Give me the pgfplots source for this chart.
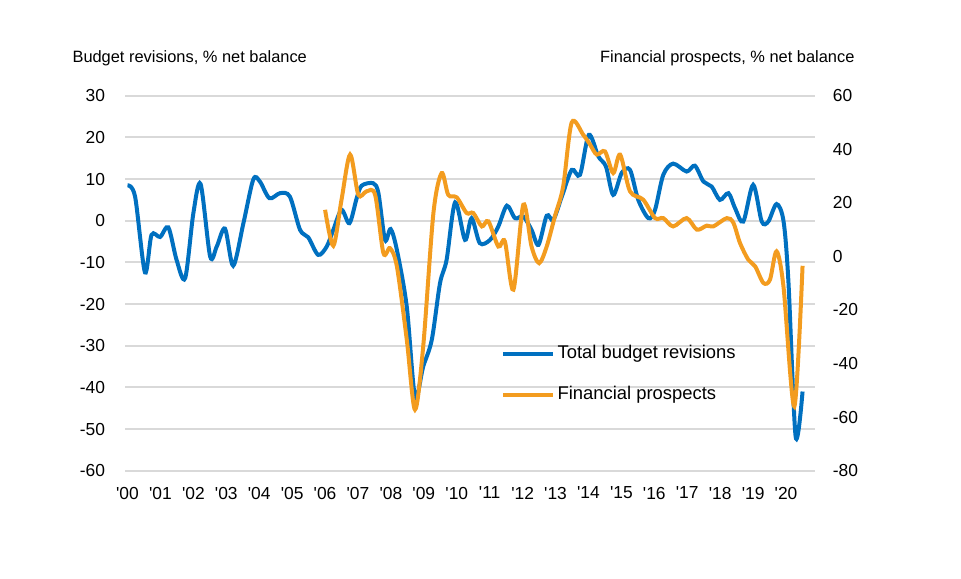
\documentclass[border=0pt]{standalone}
\usepackage{fontspec}
\setmainfont{Liberation Sans}[Ligatures=TeXOff]
\usepackage{pgfplots}
\pgfplotsset{compat=1.18}

\definecolor{revblue}{RGB}{0,112,192}
\definecolor{prosorange}{RGB}{243,156,31}
\definecolor{gridgray}{RGB}{217,217,217}

% budget revisions, % net balance (left axis)
\pgfplotstableread{
year value
2000.00 8.5
2000.23 5.8
2000.53 -12.4
2000.73 -3.4
2000.99 -3.9
2001.24 -1.6
2001.49 -9.4
2001.75 -13.8
2002.00 1.8
2002.22 8.8
2002.51 -8.6
2002.71 -6.2
2002.96 -1.9
2003.21 -10.8
2003.52 -0.6
2003.82 9.9
2004.02 9.4
2004.31 5.4
2004.63 6.6
2004.93 5.8
2005.24 -2.2
2005.49 -4.0
2005.79 -8.2
2006.05 -6.2
2006.25 -2.2
2006.50 2.6
2006.74 -0.6
2006.96 5.4
2007.11 8.4
2007.46 9.0
2007.62 6.6
2007.82 -4.6
2007.99 -2.0
2008.18 -7.0
2008.48 -20.6
2008.73 -42.2
2008.98 -35.0
2009.24 -28.6
2009.49 -15.0
2009.69 -9.4
2009.95 4.4
2010.25 -4.6
2010.45 0.6
2010.70 -5.4
2011.01 -4.6
2011.26 -1.4
2011.52 3.6
2011.77 0.6
2012.02 1.0
2012.27 -2.2
2012.48 -5.8
2012.73 1.2
2012.93 0.2
2013.19 5.8
2013.49 12.2
2013.74 11.0
2014.01 20.6
2014.30 15.4
2014.53 13.0
2014.75 6.2
2015.01 11.5
2015.26 12.2
2015.51 5.0
2015.82 0.6
2016.02 2.6
2016.27 11.0
2016.57 13.7
2016.98 11.8
2017.23 13.2
2017.49 9.4
2017.74 8.2
2017.99 5.0
2018.25 6.6
2018.45 3.0
2018.70 -0.2
2019.00 8.6
2019.26 -0.2
2019.46 -0.2
2019.71 4.0
2019.92 0.0
2020.07 -14.5
2020.29 -51.8
2020.50 -41.0
}\budget

% financial prospects, % net balance (right axis)
\pgfplotstableread{
year value
2006.00 17.4
2006.25 4.0
2006.50 21.2
2006.76 38.0
2007.01 23.0
2007.26 24.3
2007.52 23.0
2007.77 1.3
2007.97 3.1
2008.18 -3.7
2008.48 -31.0
2008.73 -57.2
2008.98 -33.6
2009.29 16.2
2009.54 31.1
2009.74 23.0
2010.00 22.0
2010.30 16.2
2010.50 16.2
2010.76 11.2
2010.96 13.1
2011.26 3.7
2011.46 5.6
2011.72 -12.4
2012.02 19.3
2012.27 3.7
2012.50 -2.5
2012.73 3.7
2012.98 15.0
2013.23 26.1
2013.49 50.0
2013.84 45.4
2014.05 41.7
2014.25 38.0
2014.50 39.2
2014.75 31.1
2014.96 38.0
2015.26 24.3
2015.66 21.2
2016.02 14.3
2016.27 14.3
2016.57 11.2
2016.98 14.3
2017.29 10.0
2017.59 11.5
2017.79 11.2
2018.20 14.3
2018.40 12.5
2018.60 5.0
2018.85 -1.2
2019.06 -3.7
2019.31 -9.9
2019.51 -8.7
2019.71 1.9
2019.92 -11.2
2020.25 -56.0
2020.50 -3.5
}\prospects

\begin{document}
\begin{tikzpicture}[x=0.5pt, y=0.5pt, font=\fontsize{8.2}{9.8}\selectfont]
\useasboundingbox (-125,-107.3) rectangle (836,470.7);

\pgfplotsset{
  every axis/.append style={
    at={(0,0)}, anchor=south west,
    scale only axis, width=345pt, height=187.5pt,
    xmin=1999.924, xmax=2020.878,
    axis line style={draw=none},
    major tick length=0pt,
    /pgf/number format/assume math mode=true,
    tick label style={font=\fontsize{8.7}{10.4}\selectfont},
  },
}

\begin{axis}[
  ymin=-60, ymax=30,
  ytick={-60,-50,...,30},
  xtick={2000,...,2020},
  xticklabels={'00,'01,'02,'03,'04,'05,'06,'07,'08,'09,'10,'11,'12,'13,'14,'15,'16,'17,'18,'19,'20},
  xticklabel style={yshift=-4.6pt},
  yticklabel style={xshift=-6.5pt},
  ymajorgrids,
  grid style={gridgray, line width=1pt},
]
\addplot[revblue, line width=2pt, smooth, tension=0.5] table[x=year, y=value] {\budget};
\end{axis}

\begin{axis}[
  ymin=-80, ymax=60,
  ytick={-80,-60,...,60},
  axis y line*=right,
  hide x axis,
  yticklabel style={xshift=5.4pt},
  legend style={
    at={(0.545,0.3405)}, anchor=north west,
    draw=none, fill=none, inner sep=0pt, outer sep=0pt,
    row sep=9.5pt, column sep=0pt,
    nodes={inner sep=1.3pt, text height=6.5pt, text depth=2pt, anchor=west},
    font=\fontsize{9.2}{11}\selectfont,
  },
  legend cell align=left,
  legend image code/.code={\draw[#1] (0pt,0pt) -- (25pt,0pt);},
]
\addlegendimage{revblue, line width=2pt}
\addlegendentry{Total budget revisions}
\addplot[prosorange, line width=2pt, smooth, tension=0.5] table[x=year, y=value] {\prospects};
\addlegendentry{Financial prospects}
\end{axis}

\node[anchor=base west] at (-59.5,407.7) {Budget revisions, \% net balance};
\node[anchor=base east] at (736.5,407.7) {Financial prospects, \% net balance};
\end{tikzpicture}
\end{document}
